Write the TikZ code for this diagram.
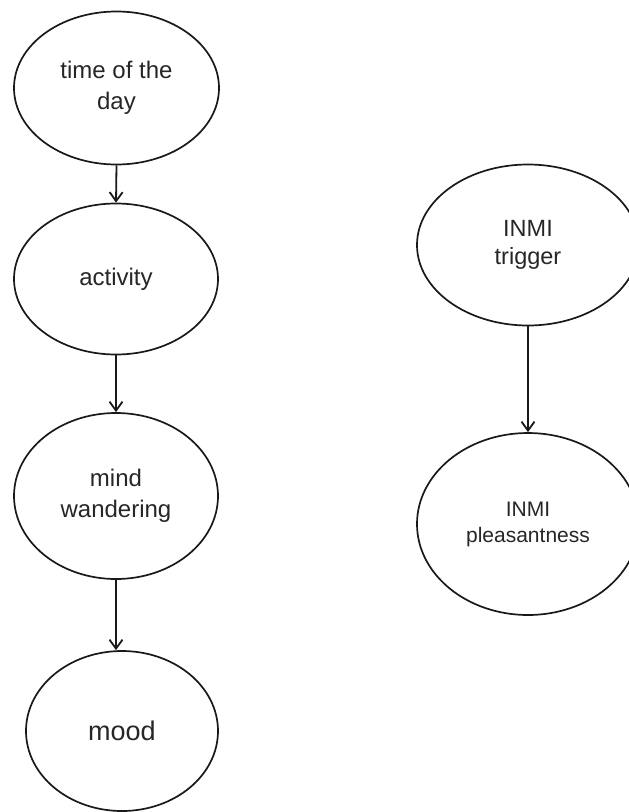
\documentclass[tikz,border=0pt]{standalone}
\usepackage{fontspec}
\setmainfont{Liberation Sans}
\usetikzlibrary{shapes.geometric,arrows.meta}
\begin{document}
\begin{tikzpicture}[x=1pt,y=-1pt,
  bubble/.style={draw=black!90, line width=1.7pt, ellipse, inner sep=0pt,
    align=center, text=black!85, font=\fontsize{24}{31}\selectfont},
  link/.style={draw=black!90, line width=1.8pt,
    -{Straight Barb[length=9pt,width=13pt,line width=1.8pt]}}]
  \useasboundingbox (0,0) rectangle (629,812);

  % left chain
  \node[bubble, minimum width=205pt, minimum height=153pt] (time) at (116.5,88) {time of the\\day};
  \node[bubble, minimum width=204pt, minimum height=151pt] (act) at (116,279) {activity};
  \node[bubble, minimum width=204pt, minimum height=166pt] (mind) at (116,496) {mind\\wandering};
  \node[bubble, minimum width=192pt, minimum height=160pt, font=\fontsize{27}{32}\selectfont] (mood) at (122,731) {mood};

  % right pair
  \node[bubble, minimum width=222pt, minimum height=161pt, font=\fontsize{23.5}{28}\selectfont] (trig) at (528,245) {INMI\\trigger};
  \node[bubble, minimum width=222pt, minimum height=182pt, font=\fontsize{21}{26}\selectfont] (pleas) at (528,524) {INMI\\pleasantness};

  % connectors
  \draw[link] (time.south) -- (act.north);
  \draw[link] (act.south) -- (mind.north);
  \draw[link] (mind.south) -- (mind.south |- mood.north);
  \draw[link] (trig.south) -- (pleas.north);
\end{tikzpicture}
\end{document}
